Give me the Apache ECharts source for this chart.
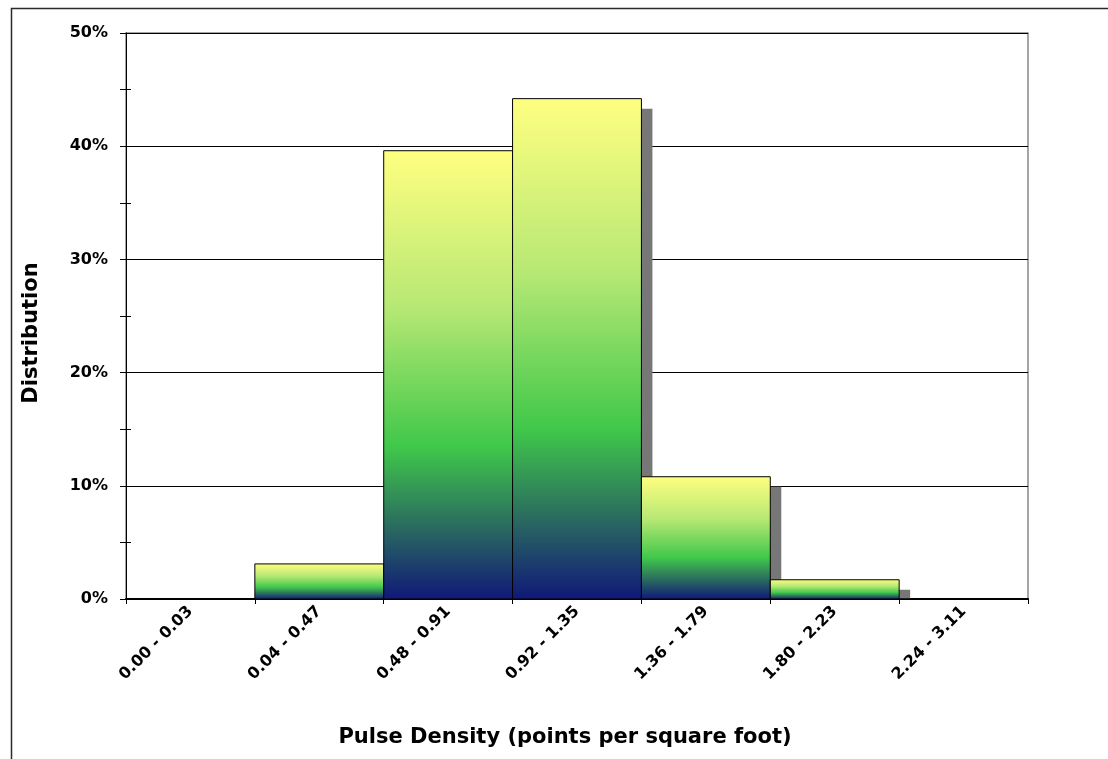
<!DOCTYPE html>
<html>
<head>
<meta charset="utf-8">
<script src="https://cdn.jsdelivr.net/npm/echarts@6/dist/echarts.min.js"></script>
<style>html,body{margin:0;padding:0;background:#fff}#c{width:1108px;height:759px}</style>
</head>
<body>
<div id="c"></div>
<script>
const categories = ['0.00 - 0.03','0.04 - 0.47','0.48 - 0.91','0.92 - 1.35','1.36 - 1.79','1.80 - 2.23','2.24 - 3.11'];
const distribution = [0.0, 0.031, 0.396, 0.442, 0.108, 0.017, 0.0];
const yTicks = [0, 0.1, 0.2, 0.3, 0.4, 0.5];
const xTitle = 'Pulse Density (points per square foot)';
const yTitle = 'Distribution';

const FONT = '"DejaVu Sans", Verdana, sans-serif';
const chart = echarts.init(document.getElementById('c'), null, {renderer: 'canvas'});

const grad = () => new echarts.graphic.LinearGradient(0, 0, 0, 1, [
  {offset: 0, color: '#ffff80'},
  {offset: 0.35, color: '#b6e874'},
  {offset: 0.66, color: '#40c84a'},
  {offset: 0.84, color: '#2a6a60'},
  {offset: 1, color: '#101878'}
]);

function renderItem(params, api) {
  const idx = api.value(0);
  const val = api.value(1);
  const base = api.coord([idx, 0]);
  const top = api.coord([idx, val]);
  const w = api.size([1, 0])[0];
  const x = base[0] - w / 2;
  const h = base[1] - top[1];
  const children = [];
  const sh = h - 10;
  if (sh > 0) {
    children.push({type: 'rect', shape: {x: x + 11, y: top[1] + 10, width: w, height: sh},
      style: {fill: '#777777'}});
  }
  children.push({type: 'rect', shape: {x: x, y: top[1], width: w, height: h},
    style: {fill: grad(), stroke: '#000', lineWidth: 1}});
  return {type: 'group', children: children};
}

chart.setOption({
  animation: false,
  backgroundColor: '#fff',
  grid: {left: 126, right: 80, top: 33, bottom: 160, show: true, borderColor: '#888', borderWidth: 1.5, containLabel: false},
  xAxis: {
    type: 'category', data: categories, boundaryGap: true,
    axisLine: {lineStyle: {color: '#000', width: 2}},
    axisTick: {show: true, length: 5, lineStyle: {color: '#000'}},
    axisLabel: {rotate: 45, margin: 10, interval: 0, color: '#000', fontFamily: FONT, fontWeight: 'bold', fontSize: 16},
    splitLine: {show: false}
  },
  yAxis: [{
    type: 'value', min: 0, max: 0.5, interval: 0.1,
    axisLine: {show: true, lineStyle: {color: '#000', width: 1}},
    axisTick: {show: true, length: 6, lineStyle: {color: '#000'}},
    minorTick: {show: true, splitNumber: 2, length: 6, lineStyle: {color: '#000'}},
    axisLabel: {margin: 18, color: '#000', fontFamily: FONT, fontWeight: 'bold', fontSize: 16,
      formatter: v => Math.round(v * 100) + '%'},
    splitLine: {show: true, lineStyle: {color: '#000', width: 1}}
  }, {
    type: 'value', min: 0, max: 0.5, interval: 0.1, position: 'left',
    axisLine: {show: false}, axisLabel: {show: false}, splitLine: {show: false},
    axisTick: {show: true, inside: true, length: 5, lineStyle: {color: '#000'}},
    minorTick: {show: true, splitNumber: 2, length: 5, lineStyle: {color: '#000'}}
  }],
  series: [{
    type: 'custom', renderItem: renderItem,
    data: distribution.map((v, i) => [i, v]),
    encode: {x: 0, y: 1}, clip: false, z: 3
  }],
  graphic: [
    {type: 'polyline', silent: true, z: -1, shape: {points: [[11.5, 759], [11.5, 8.5], [1108, 8.5]]},
      style: {fill: null, stroke: '#2a2a2a', lineWidth: 1.5}},
    {type: 'text', x: 565, y: 738, style: {text: xTitle, fill: '#000', font: 'bold 21px ' + FONT, textAlign: 'center', textVerticalAlign: 'middle'}},
    {type: 'text', x: 32, y: 333, rotation: Math.PI / 2, style: {text: yTitle, fill: '#000', font: 'bold 21px ' + FONT, textAlign: 'center', textVerticalAlign: 'middle'}}
  ]
});
</script>
</body>
</html>
